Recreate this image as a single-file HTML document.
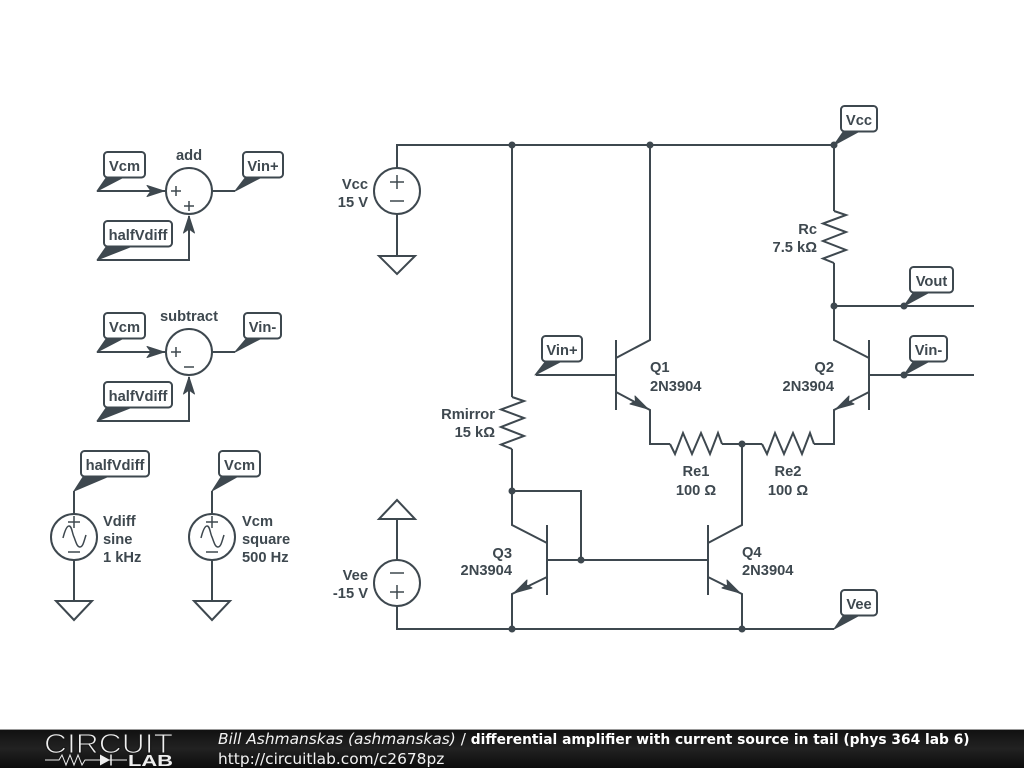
<!DOCTYPE html>
<html><head><meta charset="utf-8"><style>
html,body{margin:0;padding:0;background:#fff}
svg{display:block}
text{font-family:"Liberation Sans",Arial,sans-serif;font-weight:bold;font-size:14.700px;fill:#3e484f}
.w{fill:none;stroke:#3e484f;stroke-width:2;stroke-linejoin:miter}
.b{fill:#fff;stroke:#3e484f;stroke-width:2}
.f{fill:#3e484f;stroke:#3e484f;stroke-width:1;stroke-linejoin:round}
.t{fill:none;stroke:#3e484f;stroke-width:1.500}
.d{fill:#3e484f}
.m{text-anchor:middle}.e{text-anchor:end}
.ft{font-family:"DejaVu Sans",sans-serif;font-size:15.400px;font-weight:normal;fill:#f2f2f2}
g.b rect{height:25.500px}
</style></head><body>
<svg width="1024" height="768" viewBox="0 0 1024 768" xmlns="http://www.w3.org/2000/svg">
<defs><linearGradient id="g" x1="0" y1="0" x2="0" y2="1"><stop offset="0" stop-color="#101010"/><stop offset=".5" stop-color="#222"/><stop offset="1" stop-color="#0c0c0c"/></linearGradient></defs>
<rect width="1024" height="768" fill="#fff"/>

<!-- main wires -->
<path class="w" d="M397 168V145H834M512 145V397M650 145V340L616 358M834 145V211M834 263V340L869 358M834 306H974M869 375H974M536 375H616M616 340V410M869 340V410M616 392L650 410V444H670M722 444H762M814 444H834V410L869 392M512 449V525L547 543M512 491H581V560M547 525V595M708 525V595M547 560H708M547 577L512 594V629M708 543L742 525V444M708 577L742 594V629M397 606V629H834M397 214V256M397 519V560"/>
<!-- resistors -->
<path class="w" d="M834 211L846 215L823 223.500L846 232L823 241L846 250L823 258.500L834 263"/>
<path class="w" d="M512 397L524 401L501 409.500L524 418L501 427L524 436L501 444.500L512 449"/>
<path class="w" d="M670 444L675 454L683 433L692 454L701 433L710 454L718 433L722 444"/>
<path class="w" d="M762 444L767 454L775 433L784 454L793 433L802 454L810 433L814 444"/>
<!-- transistor arrows -->
<polygon class="f" points="648,409 635,396 635.500,401 630,404"/>
<polygon class="f" points="836,409 849,396 848.500,401 854,404"/>
<polygon class="f" points="514,593 527,580 526.500,585 532,588"/>
<polygon class="f" points="740,593 727,580 727.500,585 722,588"/>
<!-- dots -->
<g class="d"><circle cx="512" cy="145" r="3.500"/><circle cx="650" cy="145" r="3.500"/><circle cx="834" cy="145" r="3.500"/><circle cx="834" cy="306" r="3.500"/><circle cx="904" cy="306" r="3.500"/><circle cx="904" cy="375" r="3.500"/><circle cx="742" cy="444" r="3.500"/><circle cx="512" cy="491" r="3.500"/><circle cx="581" cy="560" r="3.500"/><circle cx="512" cy="629" r="3.500"/><circle cx="742" cy="629" r="3.500"/></g>

<!-- Vcc / Vee sources -->
<circle class="b" cx="397" cy="191" r="23"/>
<path class="t" d="M390 182H404M397 175V189M390 201H404"/>
<polygon class="b" points="379,256 415,256 397,274"/>
<circle class="b" cx="397" cy="583" r="23"/>
<path class="t" d="M390 573H404M390 592H404M397 585V599"/>
<polygon class="b" points="379,519 415,519 397,500"/>
<text class="e" x="368" y="189">Vcc</text><text class="e" x="368" y="207">15 V</text>
<text class="e" x="368" y="580">Vee</text><text class="e" x="368" y="598">-15 V</text>

<!-- adder -->
<path class="w" d="M97 191H166M97 260H189V216M212 191H235"/>
<polygon class="f" points="164,191 147,185.500 151,191 147,196.500"/>
<polygon class="f" points="189,216 183.500,233 189,229 194.500,233"/>
<circle class="b" cx="189" cy="191" r="23"/>
<path class="t" d="M171 191H181M176 186V196M184 206H194M189 201V211"/>
<text class="m" x="189" y="160">add</text>
<!-- subtractor -->
<path class="w" d="M97 352H166M97 421H189V377M212 352H235"/>
<polygon class="f" points="164,352 147,346.500 151,352 147,357.500"/>
<polygon class="f" points="189,377 183.500,394 189,390 194.500,394"/>
<circle class="b" cx="189" cy="352" r="23"/>
<path class="t" d="M171 352H181M176 347V357M184 367H194"/>
<text class="m" x="189" y="321">subtract</text>

<!-- sine sources -->
<path class="w" d="M74 491V606M212 491V606"/>
<circle class="b" cx="74" cy="537" r="23"/>
<path class="t" d="M68 522H80M74 516V528M68 552H80M63 538C65 530 67 526 69 526C72 526 72 533 74 537C76 542 77 547 80 547C83 547 84 541 86 535"/>
<polygon class="b" points="56,601 92,601 74,620"/>
<circle class="b" cx="212" cy="537" r="23"/>
<path class="t" d="M206 522H218M212 516V528M206 552H218M201 538C203 530 205 526 207 526C210 526 210 533 212 537C214 542 215 547 218 547C221 547 222 541 224 535"/>
<polygon class="b" points="194,601 230,601 212,620"/>
<text x="103" y="526">Vdiff</text><text x="103" y="544">sine</text><text x="103" y="562">1 kHz</text>
<text x="242" y="526">Vcm</text><text x="242" y="544">square</text><text x="242" y="562">500 Hz</text>

<!-- net label tails -->
<g class="f">
<polygon points="97,191 106,178 122,178"/>
<polygon points="97,260 106,247 130,247"/>
<polygon points="235,191 245,178 260,178"/>
<polygon points="97,352 106,339 122,339"/>
<polygon points="97,421 106,408 130,408"/>
<polygon points="235,352 246,339 260,339"/>
<polygon points="74,491 83,477 107,477"/>
<polygon points="212,491 221,477 237,477"/>
<polygon points="535,375 545,362 560,362"/>
<polygon points="834,145 843,132 858,132"/>
<polygon points="904,306 913,293 928,293"/>
<polygon points="904,375 913,362 928,362"/>
<polygon points="834,629 843,616 858,616"/>
</g>
<!-- net label boxes -->
<g class="b">
<rect x="104" y="152" width="41" height="26" rx="3.500"/>
<rect x="104" y="221" width="68" height="26" rx="3.500"/>
<rect x="243" y="152" width="40" height="26" rx="3.500"/>
<rect x="104" y="313" width="41" height="26" rx="3.500"/>
<rect x="104" y="382" width="68" height="26" rx="3.500"/>
<rect x="244" y="313" width="37" height="26" rx="3.500"/>
<rect x="81" y="451" width="68" height="26" rx="3.500"/>
<rect x="219" y="451" width="41" height="26" rx="3.500"/>
<rect x="542" y="336" width="40" height="26" rx="3.500"/>
<rect x="841" y="106" width="36" height="26" rx="3.500"/>
<rect x="910" y="267" width="43" height="26" rx="3.500"/>
<rect x="910" y="336" width="37" height="26" rx="3.500"/>
<rect x="841" y="590" width="36" height="26" rx="3.500"/>
</g>
<text class="m" x="124.500" y="171">Vcm</text>
<text class="m" x="138" y="240">halfVdiff</text>
<text class="m" x="263" y="171">Vin+</text>
<text class="m" x="124.500" y="332">Vcm</text>
<text class="m" x="138" y="401">halfVdiff</text>
<text class="m" x="262.500" y="332">Vin-</text>
<text class="m" x="115" y="470">halfVdiff</text>
<text class="m" x="239.500" y="470">Vcm</text>
<text class="m" x="562" y="355">Vin+</text>
<text class="m" x="859" y="125">Vcc</text>
<text class="m" x="931.500" y="286">Vout</text>
<text class="m" x="928.500" y="355">Vin-</text>
<text class="m" x="859" y="609">Vee</text>

<!-- component labels -->
<text x="650" y="372">Q1</text><text x="650" y="391">2N3904</text>
<text class="e" x="834" y="372">Q2</text><text class="e" x="834" y="391">2N3904</text>
<text class="e" x="512" y="558">Q3</text><text class="e" x="512" y="575">2N3904</text>
<text x="742" y="557">Q4</text><text x="742" y="575">2N3904</text>
<text class="e" x="817" y="234">Rc</text><text class="e" x="817" y="252">7.5 kΩ</text>
<text class="e" x="495" y="419">Rmirror</text><text class="e" x="495" y="437">15 kΩ</text>
<text class="m" x="696" y="476">Re1</text><text class="m" x="696" y="495">100 Ω</text>
<text class="m" x="788" y="476">Re2</text><text class="m" x="788" y="495">100 Ω</text>

<!-- footer -->
<rect x="0" y="729" width="1024" height="39" fill="url(#g)"/>
<rect x="0" y="729" width="1024" height="1" fill="#999"/>
<text x="44" y="753" textLength="129" lengthAdjust="spacingAndGlyphs" style="font-size:28px;font-weight:normal;fill:#f0f0f0;stroke:#181818;stroke-width:1.100">CIRCUIT</text>
<path d="M45 760H59L62 755L66 765L70 755L74 765L78 755L82 765L85 760H127" fill="none" stroke="#eee" stroke-width="1"/>
<polygon points="100,754.500 100,765.500 110,760" fill="#eee"/><path d="M111 754.500V765.500" stroke="#eee" stroke-width="1.500"/>
<text x="128" y="766" textLength="45" lengthAdjust="spacingAndGlyphs" style="font-size:16px;font-weight:bold;fill:#eee">LAB</text>
<text class="ft" x="218" y="744"><tspan font-style="italic">Bill Ashmanskas (ashmanskas)</tspan> / <tspan font-weight="bold" fill="#fff" font-size="13.800">differential amplifier with current source in tail (phys 364 lab 6)</tspan></text>
<text class="ft" x="218" y="764">http://circuitlab.com/c2678pz</text>
</svg>
</body></html>
